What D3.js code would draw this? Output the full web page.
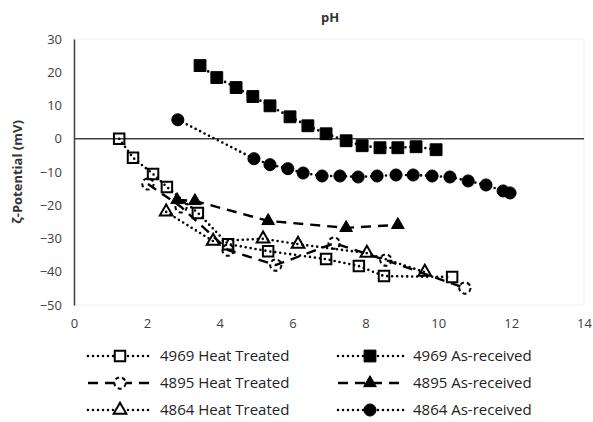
<!DOCTYPE html>
<html><head><meta charset="utf-8">
<script src="https://cdn.jsdelivr.net/npm/d3@7"></script>
<style>body{margin:0;background:#fff}svg{display:block}text{font-family:"Open Sans","Noto Sans",sans-serif}</style>
</head><body><svg id="c" width="593" height="422"></svg>
<script>
// ---- data ----
const xTicks = [0, 2, 4, 6, 8, 10, 12, 14];
const yTicks = [30, 20, 10, 0, -10, -20, -30, -40, -50];
const seriesNames = ["4969 Heat Treated", "4969 As-received", "4895 Heat Treated", "4895 As-received", "4864 Heat Treated", "4864 As-received"];

const ph4969HT = [1.24, 1.62, 2.17, 2.55, 3.40, 4.23, 5.33, 6.92, 7.82, 8.51, 10.38];
const zeta4969HT = [0, -5.7, -10.6, -14.5, -22.3, -31.7, -33.8, -36.2, -38.3, -41.3, -41.6];

const ph4969AR = [3.46, 3.92, 4.45, 4.91, 5.38, 5.93, 6.42, 6.92, 7.47, 7.91, 8.40, 8.89, 9.39, 9.94];
const zeta4969AR = [22.0, 18.4, 15.4, 12.7, 9.9, 6.6, 3.9, 1.5, -0.6, -2.1, -2.7, -2.7, -2.4, -3.3];

const ph4895HT = [2.03, 2.94, 4.23, 5.54, 7.14, 8.56, 10.73];
const zeta4895HT = [-13.6, -20.5, -33.5, -38.0, -31.4, -36.5, -44.9];

const ph4895AR = [2.83, 3.32, 5.33, 7.47, 8.89];
const zeta4895AR = [-18.4, -18.7, -24.7, -26.8, -25.9];

const ph4864HT = [2.53, 3.82, 5.19, 6.15, 8.04, 9.63];
const zeta4864HT = [-22.0, -30.8, -30.1, -31.7, -34.4, -40.1];

const ph4864AR = [2.85, 4.94, 5.38, 5.87, 6.29, 6.81, 7.30, 7.80, 8.32, 8.84, 9.31, 9.83, 10.32, 10.82, 11.31, 11.78, 11.97];
const zeta4864AR = [5.7, -6.0, -7.8, -9.0, -10.3, -11.2, -11.2, -11.5, -11.2, -10.9, -10.9, -11.2, -11.5, -12.7, -13.9, -15.7, -16.3];

// ---- styles ----
const DOT = {dash: "0,5", cap: "round", w: 2.6};
const DASH = {dash: "10,7", cap: "butt", w: 2.4};
const series = [
  {name: seriesNames[0], x: ph4969HT, y: zeta4969HT, line: DOT, sym: d3.symbolSquare, size: 110, fill: "none", mdash: null},
  {name: seriesNames[1], x: ph4969AR, y: zeta4969AR, line: DOT, sym: d3.symbolSquare, size: 140, fill: "#000", mdash: null},
  {name: seriesNames[2], x: ph4895HT, y: zeta4895HT, line: DASH, sym: d3.symbolCircle, size: 100, fill: "none", mdash: "4,3"},
  {name: seriesNames[3], x: ph4895AR, y: zeta4895AR, line: DASH, sym: d3.symbolTriangle, size: 70, fill: "#000", mdash: null},
  {name: seriesNames[4], x: ph4864HT, y: zeta4864HT, line: DOT, sym: d3.symbolTriangle, size: 70, fill: "none", mdash: null},
  {name: seriesNames[5], x: ph4864AR, y: zeta4864AR, line: DOT, sym: d3.symbolCircle, size: 115, fill: "#000", mdash: null}
];

const svg = d3.select("#c");
const L = 74, R = 584, T = 39, B = 305;
const x = d3.scaleLinear().domain([0, 14]).range([L, R]);
const y = d3.scaleLinear().domain([-50, 30]).range([B, T]);

// plot area border
svg.append("rect").attr("x", L).attr("y", T).attr("width", R - L).attr("height", B - T)
  .attr("fill", "none").attr("stroke", "#eeeeee").attr("stroke-width", 1);

// axes
const yAxis = d3.axisLeft(y).tickValues(yTicks).tickSize(0).tickPadding(12).tickFormat(d3.format("d"));
const gy = svg.append("g").attr("transform", `translate(${L},0)`).call(yAxis);
gy.select(".domain").attr("stroke", "#404040").attr("stroke-width", 1.5);
gy.selectAll("text").attr("font-size", 13).attr("fill", "#404040");

const xAxis = d3.axisBottom(x).tickValues(xTicks).tickSize(0).tickPadding(14);
const gx = svg.append("g").attr("transform", `translate(0,${B})`).call(xAxis);
gx.select(".domain").remove();
gx.selectAll("text").attr("font-size", 13).attr("fill", "#404040");

// zero line
svg.append("line").attr("x1", L).attr("x2", R).attr("y1", y(0)).attr("y2", y(0))
  .attr("stroke", "#404040").attr("stroke-width", 1.5);

// titles
svg.append("text").attr("x", 330).attr("y", 22).attr("text-anchor", "middle")
  .attr("font-size", 13).attr("font-weight", "bold").attr("fill", "#333").text("pH");
svg.append("text").attr("transform", `translate(22,${(T + B) / 2}) rotate(-90)`)
  .attr("text-anchor", "middle").attr("font-size", 13).attr("font-weight", "bold").attr("fill", "#333")
  .text("ζ-Potential (mV)");

// series
const lineGen = d3.line().x(d => x(d[0])).y(d => y(d[1]));
series.forEach(s => {
  const pts = s.x.map((v, i) => [v, s.y[i]]);
  svg.append("path").attr("d", lineGen(pts)).attr("fill", "none").attr("stroke", "#000")
    .attr("stroke-width", s.line.w).attr("stroke-dasharray", s.line.dash).attr("stroke-linecap", s.line.cap);
});
series.forEach(s => {
  const pts = s.x.map((v, i) => [v, s.y[i]]);
  svg.append("g").selectAll("path").data(pts).join("path")
    .attr("transform", d => `translate(${x(d[0])},${y(d[1])})`)
    .attr("d", d3.symbol().type(s.sym).size(s.size))
    .attr("fill", s.fill).attr("stroke", "#000").attr("stroke-width", s.fill === "none" ? 2 : 1)
    .attr("stroke-dasharray", s.mdash);
});

// legend
const order = [0, 1, 2, 3, 4, 5];
const rowsY = [356, 383, 410];
const colX = [{l0: 88, l1: 150, m: 120, t: 160}, {l0: 338, l1: 404, m: 370, t: 413}];
order.forEach((si, k) => {
  const s = series[si];
  const r = Math.floor(k / 2), c = k % 2;
  const cy = rowsY[r], cx = colX[c];
  const g = svg.append("g");
  g.append("line").attr("x1", cx.l0).attr("x2", cx.l1).attr("y1", cy).attr("y2", cy)
    .attr("stroke", "#000").attr("stroke-width", s.line.w).attr("stroke-dasharray", s.line.dash)
    .attr("stroke-linecap", s.line.cap);
  g.append("path").attr("transform", `translate(${cx.m},${cy})`)
    .attr("d", d3.symbol().type(s.sym).size(s.size))
    .attr("fill", s.fill === "none" ? "#fff" : s.fill).attr("stroke", "#000")
    .attr("stroke-width", s.fill === "none" ? 2 : 1).attr("stroke-dasharray", s.mdash);
  g.append("text").attr("x", cx.t).attr("y", cy).attr("dy", "0.35em")
    .attr("font-size", 15).attr("fill", "#222").text(s.name);
});
</script></body></html>
